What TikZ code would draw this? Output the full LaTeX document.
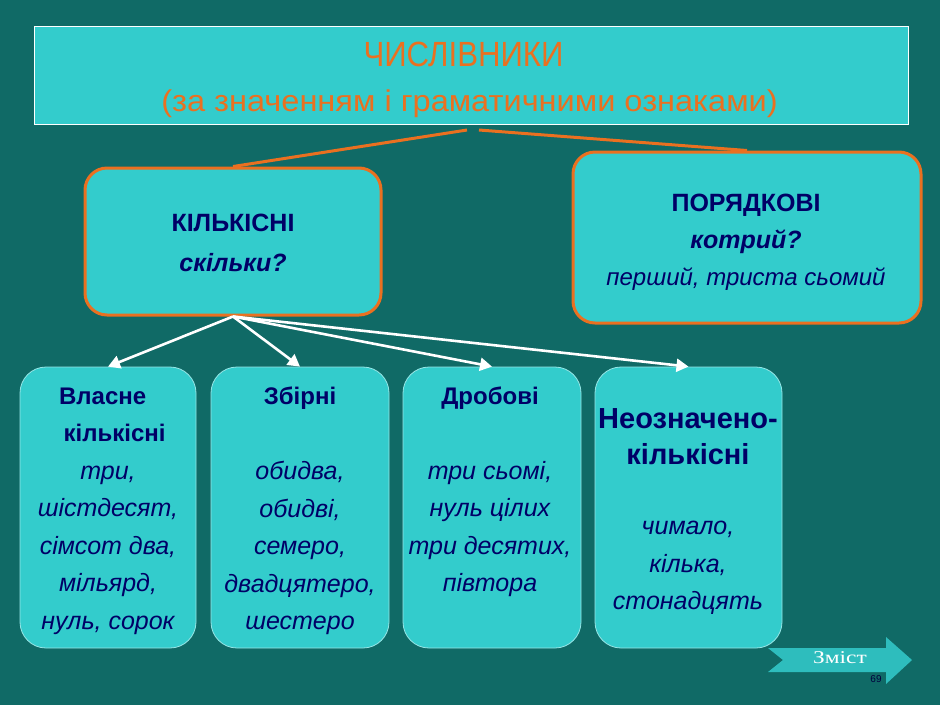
\documentclass[tikz,border=0pt]{standalone}
\usepackage{fontspec}
\usepackage{graphicx}
\setmainfont{Liberation Sans}
\newfontfamily\zmfont{Liberation Serif}
\usetikzlibrary{arrows.meta}
\definecolor{bgteal}{RGB}{16,106,102}
\definecolor{cyanbox}{RGB}{51,204,204}
\definecolor{orangeln}{RGB}{234,112,32}
\definecolor{navy}{RGB}{0,0,102}
\definecolor{subedge}{RGB}{150,230,230}
\begin{document}
\begin{tikzpicture}[x=1pt,y=-1pt,
  catbox/.style={draw=orangeln, line width=3pt, fill=cyanbox, rounded corners=22pt},
  subbox/.style={draw=subedge, line width=0.8pt, fill=cyanbox, rounded corners=26pt},
  titletxt/.style={text=orangeln, inner sep=0pt, anchor=base},
  cattxt/.style={text=navy, align=center, inner sep=0pt},
  subtxt/.style={text=navy, align=center, inner sep=0pt, font=\fontsize{25}{37.5}\selectfont\itshape},
  orline/.style={draw=orangeln, line width=3pt},
  wharrow/.style={draw=white, line width=2.6pt, -{Triangle[length=12pt,width=13pt]}},
]
\useasboundingbox (0,0) rectangle (940,705);
\fill[bgteal] (0,0) rectangle (940,705);
% title
\node[draw=white, line width=0.8pt, fill=cyanbox, minimum width=874pt, minimum height=98pt, inner sep=0pt] (title) at (471,75) {};
\node[titletxt, font=\fontsize{35}{40}\selectfont] (t1) at (463.5,66) {\scalebox{0.89}[1]{ЧИСЛІВНИКИ}};
\node[titletxt, font=\fontsize{30}{34}\selectfont] (t2) at (469.5,111.5) {\scalebox{1.085}[1]{(за значенням і граматичними ознаками)}};
% category boxes
\node[catbox, minimum width=296pt, minimum height=147pt] (kil) at (233,241.5) {};
\node[catbox, minimum width=348pt, minimum height=171pt] (por) at (747,237.5) {};
\node[cattxt, font=\fontsize{25}{40}\selectfont\bfseries] (kilt) at (233,243) {КІЛЬКІСНІ\\\itshape скільки?};
\node[cattxt, font=\fontsize{25}{37}\selectfont] (port) at (746,242) {\bfseries ПОРЯДКОВІ\\\bfseries\itshape котрий?\\\itshape\fontsize{24}{37}\selectfont перший, триста сьомий};
% connectors from title
\coordinate (tl) at (467,130);
\coordinate (tr) at (479,130);
\draw[orline] (tl) -- (kil.north);
\draw[orline] (tr) -- (por.north);
% sub boxes
\node[subbox, minimum width=176pt, minimum height=281pt] (b1) at (108,507.5) {};
\node[subbox, minimum width=178pt, minimum height=281pt] (b2) at (300,507.5) {};
\node[subbox, minimum width=178pt, minimum height=281pt] (b3) at (492,507.5) {};
\node[subbox, minimum width=187pt, minimum height=281pt] (b4) at (688.5,507.5) {};
\draw[wharrow] (kil.south) -- (b1.north);
\draw[wharrow] (kil.south) -- (b2.north);
\draw[wharrow] (kil.south) -- (b3.north);
\draw[wharrow] (kil.south) -- (b4.north);
% sub box texts
\node[subtxt] (b1t) at (108,511) {{\upshape\bfseries\fontsize{24}{37.5}\selectfont Власне\ \,}\\{\upshape\bfseries\fontsize{24}{37.5}\selectfont\ \ кількісні}\\три,\\шістдесят,\\сімсот два,\\мільярд,\\нуль, сорок};
\node[subtxt] (b2t) at (300,511) {{\upshape\bfseries\fontsize{24}{37.5}\selectfont Збірні}\\~\\обидва,\\обидві,\\семеро,\\двадцятеро,\\шестеро};
\node[subtxt] (b3t) at (490,492) {{\upshape\bfseries\fontsize{24}{37.5}\selectfont Дробові}\\~\\три сьомі,\\нуль цілих\\три десятих,\\півтора};
\node[cattxt, font=\fontsize{29}{36}\selectfont\bfseries] (b4h) at (688,437) {Неозначено-\\кількісні};
\node[subtxt] (b4t) at (688,568) {чимало,\\кілька,\\стонадцять};
% button
\fill[cyanbox!85!bgteal] (768,648) -- (886,648) -- (886,637) -- (912,660) -- (886,684) -- (886,672) -- (768,672) -- (783,660) -- cycle;
\node[text=white, font=\zmfont\fontsize{18}{20}\selectfont, inner sep=0pt, anchor=base] (zm) at (840,663) {\scalebox{1.3}[1]{Зміст}};
\node[text=navy!60!black, font=\fontsize{10}{10}\selectfont, inner sep=0pt] (pg) at (876,679) {69};
\end{tikzpicture}
\end{document}
